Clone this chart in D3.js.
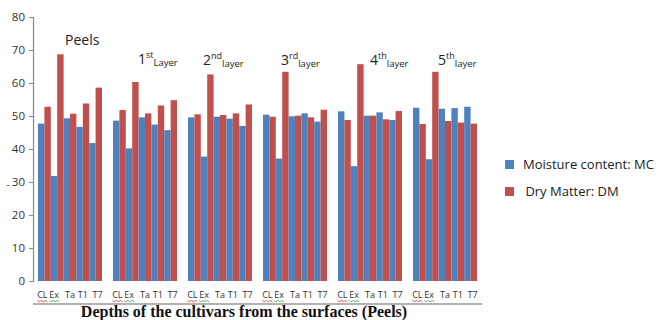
<!DOCTYPE html>
<html><head><meta charset="utf-8">
<script src="https://cdn.jsdelivr.net/npm/d3@7"></script>
<style>body{margin:0;background:#fff;} svg{display:block;}</style>
</head><body>
<script>
const groups = ["Peels","1st Layer","2nd layer","3rd layer","4th layer","5th layer"];
const groupMain = ["Peels","1","2","3","4","5"];
const groupSup = ["","st","nd","rd","th","th"];
const groupSub = ["","Layer","layer","layer","layer","layer"];
const cultivars = ["CL","Ex","Ta","T1","T7"];
const seriesNames = ["Moisture content: MC"," Dry Matter: DM"];
const mcValues = [
  [47.7,31.8,49.3,46.7,41.8],
  [48.6,40.2,49.6,47.4,45.7],
  [49.6,37.7,49.8,49.2,47.0],
  [50.4,37.1,49.9,50.8,48.3],
  [51.4,34.8,50.1,51.1,48.8],
  [52.5,36.9,52.2,52.4,52.8]
];
const dmValues = [
  [52.8,68.7,50.7,53.8,58.6],
  [51.8,60.3,50.8,53.2,54.8],
  [50.5,62.6,50.3,50.8,53.5],
  [49.8,63.4,50.1,49.6,51.9],
  [48.8,65.7,50.1,49.0,51.5],
  [47.6,63.4,48.5,48.0,47.7]
];
const yTicks = [0,10,20,30,40,50,60,70,80];

const W = 658, H = 320;
const colors = ["#4F81BD","#C0504D"];
const svg = d3.select("body").append("svg").attr("width",W).attr("height",H);

const x0 = d3.scaleBand().domain(groups).range([33,482]).paddingInner(0.1467).paddingOuter(0.0667);
const x1 = d3.scaleBand().domain(cultivars).range([0,x0.bandwidth()]);
const x2 = d3.scaleBand().domain([0,1]).range([0,x1.bandwidth()]);
const y = d3.scaleLinear().domain([0,80]).range([281,17]);

// bars
const gG = svg.append("g").selectAll("g").data(groups).join("g")
  .attr("transform", d => `translate(${x0(d)},0)`);
gG.each(function(g, gi){
  const sel = d3.select(this);
  cultivars.forEach((c, ci) => {
    [mcValues[gi][ci], dmValues[gi][ci]].forEach((v, si) => {
      sel.append("rect")
        .attr("x", x1(c) + x2(si))
        .attr("y", y(v))
        .attr("width", x2.bandwidth())
        .attr("height", y(0) - y(v))
        .attr("fill", colors[si]);
    });
  });
});

// y axis
const yAxis = svg.append("g").attr("transform","translate(33,0)")
  .call(d3.axisLeft(y).tickValues(yTicks).tickSize(4).tickPadding(4).tickFormat(d3.format("d")));
yAxis.select(".domain").attr("stroke","#888").attr("stroke-width",1.2);
yAxis.selectAll(".tick line").attr("stroke","#888");
yAxis.selectAll(".tick text").attr("fill","#333").style("font-family","'Open Sans',sans-serif").style("font-size","11.5px");
// small green mark near 30
svg.append("line").attr("x1",6.5).attr("x2",9.5).attr("y1",y(30)+3.5).attr("y2",y(30)+3.5).attr("stroke","#4a9a4a").attr("stroke-width",1);

// x tick labels
const lblG = svg.append("g");
groups.forEach((g, gi) => {
  cultivars.forEach((c, ci) => {
    const cx = x0(g) + x1(c) + x1.bandwidth()/2 + (ci===0 ? -2 : ci===1 ? -3 : ci===4 ? 2 : 0);
    lblG.append("text").attr("x", cx).attr("y", 298).attr("text-anchor","middle")
      .attr("fill","#333").style("font-family","'Open Sans',sans-serif").style("font-size","9px").text(c);
    if (ci < 2) {
      const wx0 = cx - 5, pts = [];
      for (let k = 0; k <= 5; k++) pts.push([wx0 + k*2, 300.5 + (k%2 ? 1.2 : 0)]);
      lblG.append("path").attr("d", d3.line()(pts)).attr("fill","none")
        .attr("stroke", ci===0 ? "#d03030" : "#40a040").attr("stroke-width",0.8);
    }
  });
});

// group labels
const labelDx = [27,25,15,18,32,25];
const labelY = [45,64,65,65,65,65];
groups.forEach((g, gi) => {
  const t = svg.append("text").attr("x", x0(g) + labelDx[gi]).attr("y", labelY[gi])
    .attr("fill","#222").style("font-family","'Open Sans',sans-serif").style("font-size","14px");
  t.append("tspan").text(groupMain[gi]);
  if (groupSup[gi]) {
    t.append("tspan").attr("dy",-6).style("font-size","9px").text(groupSup[gi]);
    t.append("tspan").attr("dy",8).style("font-size","9.5px").text(groupSub[gi]);
  }
});

// bottom line and title
svg.append("line").attr("x1",33).attr("x2",482).attr("y1",304).attr("y2",304).attr("stroke","#999").attr("stroke-width",1.5);
svg.append("text").attr("x",244).attr("y",317).attr("text-anchor","middle")
  .style("font-family","'Liberation Serif',serif").style("font-weight","bold").style("font-size","16px")
  .attr("fill","#111").text("Depths of the cultivars from the surfaces (Peels)");

// legend
const legY = [160,187];
const legTx = [523,522];
seriesNames.forEach((s, i) => {
  svg.append("rect").attr("x",505).attr("y",legY[i]).attr("width",9).attr("height",9).attr("fill",colors[i]);
  svg.append("text").attr("x",legTx[i]).attr("y",legY[i]+9).attr("fill","#222")
    .style("font-family","'Open Sans',sans-serif").style("font-size","13px").style("white-space","pre")
    .attr("xml:space","preserve").text(s);
});
</script>
</body></html>
